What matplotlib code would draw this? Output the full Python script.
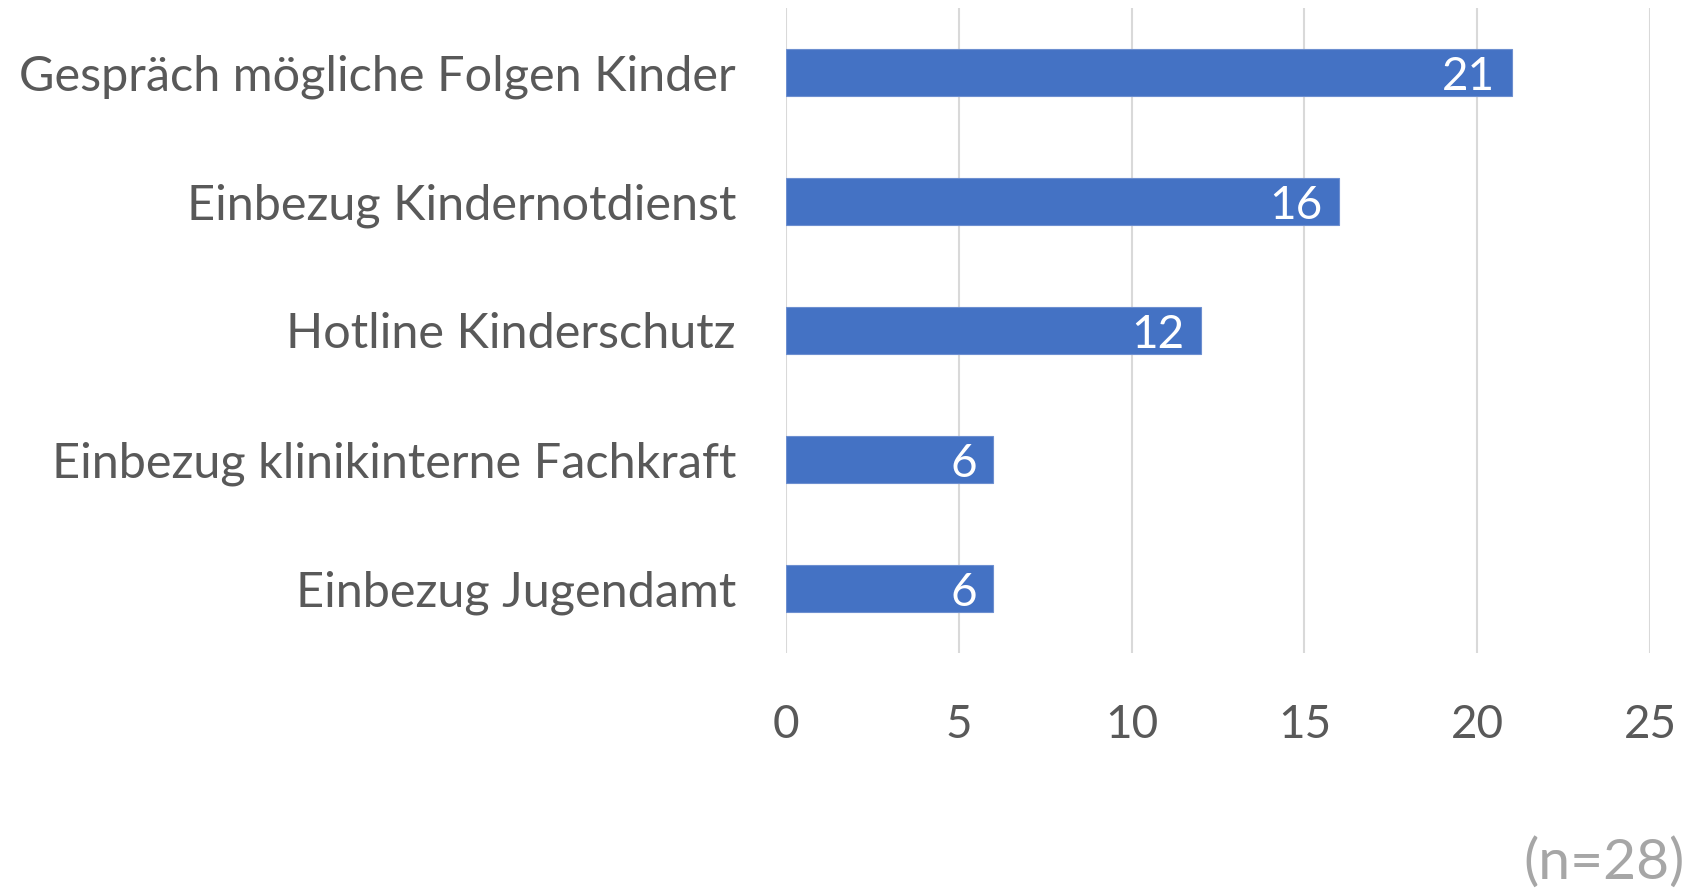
import matplotlib
matplotlib.use("Agg")
import matplotlib.pyplot as plt

categories = ["Gespräch mögliche Folgen Kinder", "Einbezug Kindernotdienst",
              "Hotline Kinderschutz", "Einbezug klinikinterne Fachkraft",
              "Einbezug Jugendamt"]
values = [21, 16, 12, 6, 6]
xticks = [0, 5, 10, 15, 20, 25]
note = "(n=28)"

plt.rcParams['font.family'] = ['Lato', 'DejaVu Sans']
fig = plt.figure(figsize=(16.91, 8.93), dpi=100)
ax = fig.add_axes([786/1691, 1-653/893, (1650-786)/1691, (653-8)/893])

ypos = list(range(len(categories)))
bars = ax.barh(ypos, values, height=0.37, color="#4472C4", edgecolor="#6d8fd0", linewidth=0.8, zorder=3)
ax.set_ylim(len(categories)-0.5, -0.5)
ax.set_xlim(0, 25)
ax.set_xticks(xticks)
ax.set_yticks(ypos)
ax.set_yticklabels(categories)
ax.tick_params(axis='y', length=0, pad=36, labelsize=35, labelcolor="#595959")
ax.tick_params(axis='x', length=0, pad=37, labelsize=33, labelcolor="#595959")
for s in ax.spines.values():
    s.set_visible(False)
ax.grid(axis='x', color="#D9D9D9", linewidth=1.5, zorder=0)
ax.set_axisbelow(True)

for y, v in zip(ypos, values):
    ax.annotate(str(v), xy=(v, y), xytext=(-12, -3), textcoords='offset points',
                ha='right', va='center', color='white', fontsize=33, zorder=4)

fig.text(1685/1691, 1-863/893, note, ha='right', va='center', fontsize=41, color="#A6A6A6")
fig.savefig("out.png", dpi=100)
